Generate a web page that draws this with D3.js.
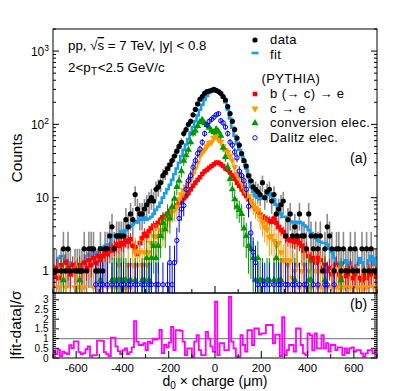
<!DOCTYPE html>
<html><head><meta charset="utf-8">
<script src="https://cdn.jsdelivr.net/npm/d3@7"></script>
<style>
html,body{margin:0;padding:0;background:#fff;}
svg{display:block;font-family:"Liberation Sans",Arial,Helvetica,sans-serif;}
</style></head><body>
<svg id="c" width="407" height="391"></svg>
<script>
// ---- data (140 bins of 10 um from -700 to 700) ----
const binLow = -700, binHigh = 700;
const dataCounts = [1,1,0,1,2,1,2,1,0,1,
 1,1,1,2,1,2,2,2,1,1,
 2,1,2,2,3,4,2,3,3,3,
 3,5,4,6,5,11,7,6,6,7,
 8,9,10,9,13,14,16,20,22,25,
 28,32,37,43,50,57,75,85,100,110,
 135,160,190,220,240,265,280,285,290,300,
 290,280,265,240,215,175,140,110,85,65,
 52,40,32,27,20,17,14,13,12,11,
 16,10,12,13,9,11,6,7,8,9,
 3,5,6,3,4,3,6,3,3,2,
 6,3,2,3,2,3,1,2,4,3,
 2,1,2,2,1,2,1,1,2,1,
 2,1,0,2,1,2,1,2,1,1];
const fitValues = [0.8,1.0,1.5,1.6,1.6,1.4,1.2,1.3,1.2,1.1,
 1.1,1.0,1.2,1.1,1.6,1.7,1.6,1.8,1.7,1.8,
 2.1,2.0,2.2,2.3,2.1,3.1,3.0,2.9,2.8,3.5,
 3.4,3.6,4.1,4.0,4.3,4.8,4.6,5.2,5.0,5.4,
 5.0,5.2,5.5,6.0,6.8,7.5,8.5,10,11.5,13,
 15,17.5,21,25,30,37,45,53,63,77,
 92,110,132,158,185,215,245,268,285,293,
 290,280,262,235,200,160,120,90,70,55,
 45,38,31,25,19,14,12,10.5,10,9.6,
 10,10.5,11,11.5,10.5,9.5,8.0,7.0,6.0,5.5,
 5.5,5.0,4.8,4.6,4.7,4.5,4.7,4.5,4.2,4.0,
 3.6,3.3,3.0,2.8,2.6,2.5,2.4,2.4,2.3,2.0,
 1.8,1.5,1.3,1.3,1.2,1.3,1.4,1.2,1.3,1.1,
 1.0,1.2,1.5,1.3,1.0,0.9,1.4,1.6,1.2,1.5];
const bceValues = [0.9,1.1,0.8,1.2,1.0,1.3,1.1,0.9,1.2,1.0,
 1.1,1.2,1.0,1.3,1.1,1.4,1.2,1.5,1.3,1.6,
 1.4,1.6,1.8,1.7,2.0,1.9,2.1,2.3,2.2,2.4,
 2.3,2.6,2.5,2.7,2.2,2.1,1.7,2.4,2.8,3.2,
 3.0,3.5,3.8,4.1,4.2,4.5,5.0,5.4,5.6,6.0,
 6.6,6.8,7.2,7.8,8.5,9.0,9.8,10.5,11.5,13,
 14.5,16,17.5,19,21,22.8,24,25.5,27,28.5,
 30,30,28.5,27,25,24,22,20,18,16,
 14.5,13,11.5,10.5,9.5,8.5,7.8,7.0,6.5,5.8,
 5.5,5.2,5.0,4.8,4.7,5.2,4.5,4.0,3.6,3.4,
 3.0,2.7,2.6,2.6,2.5,2.7,2.4,2.2,1.9,2.0,
 1.6,1.4,1.5,1.3,1.5,1.4,1.1,1.2,1.0,1.1,
 0.9,1.0,1.2,0.9,0.8,1.0,0.85,0.9,1.1,0.8,
 0.9,1.0,0.8,0.75,0.85,0.8,0.9,1.0,0.9,0.85];
const ceValues = [0,0,0.6,0,0,0.6,0,0,0,0.6,
 0.6,0.6,0,0.6,0,0,0,0.6,0,0,
 0.6,0,0,0.6,0,0.6,0,0.6,1.2,0.6,
 0.6,0.6,1.2,0.6,1.2,1.8,1.2,1.8,1.2,1.8,
 1.2,1.8,2.4,3.0,3.0,3.0,3.6,3.6,4.2,5.0,
 5.8,6.5,6.7,7.5,9.5,11,12.5,14,16,18,
 21,25,30,37,42,45,50,55,57,65,
 72,62,58,50,45,42,37,32,26,21,
 19,16,14,12,10.4,9,8,7.2,6.7,5.5,
 4.6,4.0,3.7,2.9,3.0,2.6,2.2,2.4,1.8,1.4,
 1.4,1.2,1.4,0.8,1.0,1.2,0.6,1.0,1.2,0.6,
 1.0,0.6,0,1.0,0.6,1.0,0.6,0,0.6,0,
 0.6,0,0.6,0.6,0,0.6,0,0,0.6,0,
 0,0.6,0,0.6,0,0.6,0,0,0.6,0];
const convValues = [0,0,0,0,0.75,0,0,0,0,0,
 0,0.75,0,0,0,0,0,0,0,0,
 0.75,0,0,0,0,0.75,0.75,0.75,0.75,0.75,
 0.75,0.75,0,0.75,0,0.75,0,0,0.75,0.75,
 1.5,0.75,1.5,2.2,1.5,2.2,3.0,4.5,3.7,6.0,
 5.2,7.5,9.7,14,17,23,32,38,45,57,
 75,82,95,108,115,104,98,90,82,78,
 86,80,70,48,36,26,18,13,9.5,7.5,
 6.8,6.0,3.8,3.0,2.2,2.0,1.5,0.75,1.5,0.75,
 0.75,0,0.75,0.75,0,0.75,1.5,0.75,0.75,0,
 0,0,0,0,0.75,0,0,0,0,0,
 0.75,0.75,0,0,0,0,0,0.75,0,0,
 0,0,0,0,0.75,0,0,0,0,0,
 0,0,0,0,0,0,0,0,0,0];
const dalitzValues = [0,0,0,0,0,0,0,0,0,0,
 0,0,0,0,0,0,0,0,0.65,0,
 0.65,0.65,0,0.65,0,0.65,0,0.65,0,0.65,
 0.65,0,0.65,0.65,0,0.65,0.65,0,0.65,0.65,
 0,0.65,0.65,0,0.65,0.65,0,0.65,0,0.65,
 1.3,0.65,1.3,2.6,5.2,7.0,7.8,13,17,20,
 26,32,40,46,57,75,98,110,117,125,
 135,140,112,105,92,75,57,52,42,35,
 23,20,17,13,7.6,3.3,1.8,1.3,0.65,0,
 0.65,0.65,0,0.65,0,0.65,0,0.65,0.65,0,
 0.65,0.65,0,0.65,0.65,0,0.65,0,0.65,0.65,
 0,0,0.65,0,0.65,0,0,0.65,0.65,0,
 0,0.65,0,0,0,0,0,0,0,0,
 0,0,0,0,0,0,0,0,0,0];
const ratioValues = [0.37,0.2,0.43,0.1,0.33,0.25,0.2,0.66,0.5,0.86,
 0.86,0.3,0.2,0.25,0.45,0.6,0.08,0.15,0.15,0.9,
 0.9,0.88,0.3,0.2,0.1,1.05,1.05,0.6,0.35,0.2,
 0.4,0.5,0.2,0.3,0.55,1.9,0.84,0.67,0.67,0.76,
 0.4,0.84,0.76,1.0,0.95,1.0,1.45,0.25,0.67,0.55,
 0.8,1.6,0.41,1.44,1.44,1.4,0.84,0.15,0.5,0.5,
 0.07,0.84,1.18,0.41,0.15,0.15,1.35,1.0,0.6,0.33,
 2.9,0.15,0.76,0.76,0.41,0.41,3.15,0.84,0.5,0.07,
 0.07,1.18,0.67,0.33,1.44,1.44,0.67,1.52,1.52,1.2,
 1.27,1.27,1.7,1.7,1.7,0.76,1.2,1.2,0.1,2.1,
 0.15,0.41,0.67,0.67,0.33,1.52,1.52,0.67,0.24,0.15,
 1.27,1.18,0.4,1.27,0.5,0.5,1.18,0.5,0.76,0.33,
 0.67,0.67,0.41,0.55,0.55,0.15,0.5,0.25,0.5,0.55,
 0.33,0.41,0.41,0.24,0.07,0.24,0.41,0.41,0.24,0.4];
const xTickLabels = [-600,-400,-200,0,200,400,600];
const yTopTicks = [1,10,100,1000];
const yRatioTicks = [0,0.5,1,1.5,2,2.5,3];

// ---- layout ----
const L=53, R=377, T=29, M=293, B=358;
const svg = d3.select('#c');
const x = d3.scaleLinear().domain([binLow,binHigh]).range([L,R]);
const y = d3.scaleLog().domain([0.5,2000]).range([M,T]);
const yr = d3.scaleLinear().domain([0,3.35]).range([B,M]);
const nB = dataCounts.length, bw = (binHigh-binLow)/nB;
const lo = i=>binLow+i*bw, hi = i=>binLow+(i+1)*bw, ctr = i=>binLow+(i+0.5)*bw;
const safeY = v => y(Math.max(v,0.05));

const defs = svg.append('defs');
defs.append('clipPath').attr('id','ct').append('rect').attr('x',L).attr('y',T).attr('width',R-L).attr('height',M-T);
defs.append('clipPath').attr('id','cb').append('rect').attr('x',L).attr('y',M).attr('width',R-L).attr('height',B-M);

const gTop = svg.append('g').attr('clip-path','url(#ct)');
const gBot = svg.append('g').attr('clip-path','url(#cb)');

function stepPoints(vals){ const p=[]; vals.forEach((v,i)=>{p.push([lo(i),v]);p.push([hi(i),v]);}); return p; }

// data error bars (behind)
gTop.append('g').selectAll('line').data(dataCounts.map((v,i)=>({v,i})).filter(d=>d.v>0)).join('line')
  .attr('x1',d=>x(ctr(d.i))).attr('x2',d=>x(ctr(d.i)))
  .attr('y1',d=>safeY(d.v-Math.sqrt(d.v))).attr('y2',d=>safeY(d.v+Math.sqrt(d.v)))
  .attr('stroke','#8c8c8c').attr('stroke-width',1.6);

// fit
gTop.append('path').datum(stepPoints(fitValues))
  .attr('d',d3.line().x(d=>x(d[0])).y(d=>safeY(d[1])))
  .attr('fill','none').attr('stroke','#1c9be8').attr('stroke-width',2.6);

const series = [
  {vals:bceValues, color:'#ff0000', w:0.12, sym:d3.symbolSquare, size:21, rot:0, fill:true},
  {vals:ceValues, color:'#ff9900', w:0.6, sym:d3.symbolTriangle, size:22, rot:180, fill:true},
  {vals:convValues, color:'#009900', w:0.75, sym:d3.symbolTriangle, size:22, rot:0, fill:true},
  {vals:dalitzValues, color:'#0000ff', w:0.65, sym:d3.symbolCircle, size:15, rot:0, fill:false}
];
series.forEach(s=>{
  const pts = s.vals.map((v,i)=>({v,i})).filter(d=>d.v>0);
  const g = gTop.append('g');
  g.selectAll('line').data(pts).join('line')
    .attr('x1',d=>x(ctr(d.i))).attr('x2',d=>x(ctr(d.i)))
    .attr('y1',d=>safeY(d.v-Math.sqrt(d.v*s.w))).attr('y2',d=>safeY(d.v+Math.sqrt(d.v*s.w)))
    .attr('stroke',s.color).attr('stroke-width',1);
  g.selectAll('path').data(pts).join('path')
    .attr('d',d3.symbol().type(s.sym).size(s.size))
    .attr('transform',d=>`translate(${x(ctr(d.i))},${y(d.v)}) rotate(${s.rot})`)
    .attr('fill',s.fill?s.color:'none').attr('stroke',s.fill?'none':s.color).attr('stroke-width',1);
});

// data points
gTop.append('g').selectAll('circle').data(dataCounts.map((v,i)=>({v,i})).filter(d=>d.v>0)).join('circle')
  .attr('cx',d=>x(ctr(d.i))).attr('cy',d=>y(d.v)).attr('r',2.6).attr('fill','#000');

// ratio
gBot.append('line').attr('x1',L).attr('x2',R).attr('y1',yr(1)).attr('y2',yr(1)).attr('stroke','#888').attr('stroke-width',1.2);
gBot.append('path').datum(stepPoints(ratioValues))
  .attr('d',d3.line().x(d=>x(d[0])).y(d=>yr(d[1])))
  .attr('fill','none').attr('stroke','#ff00ff').attr('stroke-width',1.8);

// ---- frames & ticks ----
const ax = svg.append('g').attr('stroke','#000').attr('stroke-width',1).attr('fill','none');
ax.append('rect').attr('x',L).attr('y',T).attr('width',R-L).attr('height',M-T);
ax.append('rect').attr('x',L).attr('y',M).attr('width',R-L).attr('height',B-M);
const logTicks=[];
for(let e=-1;e<=3;e++) for(let k=1;k<=9;k++){ const v=k*Math.pow(10,e); if(v>=0.5 && v<=2000) logTicks.push({v,major:k===1}); }
logTicks.forEach(t=>{
  const yy=y(t.v), len=t.major?6:3;
  ax.append('line').attr('x1',L).attr('x2',L+len).attr('y1',yy).attr('y2',yy);
  ax.append('line').attr('x1',R).attr('x2',R-len).attr('y1',yy).attr('y2',yy);
});
d3.range(-700,701,100).forEach(v=>{
  const major = v%200===0, xx=x(v);
  ax.append('line').attr('x1',xx).attr('x2',xx).attr('y1',B).attr('y2',B-(major?7:4));
  ax.append('line').attr('x1',xx).attr('x2',xx).attr('y1',M).attr('y2',M-(major?7:4));
});
d3.range(0,33.5,1).forEach(k=>{
  const v=k/10, yy=yr(v), major=(k%5===0), len=major?6:3;
  ax.append('line').attr('x1',L).attr('x2',L+len).attr('y1',yy).attr('y2',yy);
  ax.append('line').attr('x1',R).attr('x2',R-len).attr('y1',yy).attr('y2',yy);
});

// ---- tick labels ----
const lab = svg.append('g').attr('fill','#000');
yTopTicks.forEach(v=>{
  const e=Math.round(Math.log10(v));
  const t=lab.append('text').attr('x',49).attr('y',y(v)+4.5).attr('text-anchor','end').attr('font-size',12);
  if(e===0) t.text('1'); else if(e===1) t.text('10');
  else { t.append('tspan').text('10'); t.append('tspan').attr('font-size',8.5).attr('dy',-5).text(String(e)); }
});
yRatioTicks.forEach(v=>{
  lab.append('text').attr('x',48.5).attr('y',yr(v)+3.5).attr('text-anchor','end').attr('font-size',10).text(String(v));
});
xTickLabels.forEach(v=>{
  lab.append('text').attr('x',x(v)).attr('y',371.5).attr('text-anchor','middle').attr('font-size',11.5).text(String(v));
});

// ---- titles ----
lab.append('text').attr('transform','translate(21.5,158) rotate(-90)').attr('text-anchor','middle').attr('font-size',15.5).text('Counts');
lab.append('text').attr('transform','translate(20.5,325) rotate(-90)').attr('text-anchor','middle').attr('font-size',15.5).text('|fit-data|/σ');
const xt = lab.append('text').attr('x',215).attr('y',386).attr('text-anchor','middle').attr('font-size',14);
xt.append('tspan').text('d');
xt.append('tspan').attr('font-size',10).attr('dy',3).text('0');
xt.append('tspan').attr('dy',-3).text(' × charge (μm)');

// ---- annotations ----
const t1 = lab.append('text').attr('x',68).attr('y',50).attr('font-size',13.3);
t1.append('tspan').text('pp, √');
t1.append('tspan').attr('text-decoration','overline').text('s');
t1.append('tspan').text(' = 7 TeV, |y| < 0.8');
const t2 = lab.append('text').attr('x',68).attr('y',71.5).attr('font-size',13.3);
t2.append('tspan').text('2<p');
t2.append('tspan').attr('font-size',10).attr('dy',3.5).attr('dx',0.5).text('T');
t2.append('tspan').attr('dy',-3.5).attr('dx',0.5).text('<2.5 GeV/c');
lab.append('text').attr('x',350).attr('y',163).attr('font-size',14).text('(a)');
lab.append('text').attr('x',350).attr('y',309).attr('font-size',14).text('(b)');

// ---- legend ----
const lg = svg.append('g').attr('font-size',13).attr('letter-spacing',0.4);
const lx = 255, tx = 270;
lg.append('circle').attr('cx',lx).attr('cy',40).attr('r',2.6).attr('fill','#000');
lg.append('text').attr('x',tx).attr('y',44).text('data');
lg.append('line').attr('x1',lx-3.5).attr('x2',lx+3.5).attr('y1',53).attr('y2',53).attr('stroke','#1c9be8').attr('stroke-width',2.6);
lg.append('text').attr('x',tx).attr('y',58.6).text('fit');
lg.append('text').attr('x',261.5).attr('y',83.4).text('(PYTHIA)');
const legItems = [
  {s:series[0], label:'b (→ c) → e', base:98},
  {s:series[1], label:'c → e', base:112.6},
  {s:series[2], label:'conversion elec.', base:127.2},
  {s:series[3], label:'Dalitz elec.', base:141.8}
];
legItems.forEach(it=>{
  const s=it.s;
  lg.append('path').attr('d',d3.symbol().type(s.sym).size(s.size)())
    .attr('transform',`translate(${lx},${it.base-4}) rotate(${s.rot})`)
    .attr('fill',s.fill?s.color:'none').attr('stroke',s.fill?'none':s.color).attr('stroke-width',1);
  lg.append('text').attr('x',tx).attr('y',it.base).text(it.label);
});
</script>
</body></html>
